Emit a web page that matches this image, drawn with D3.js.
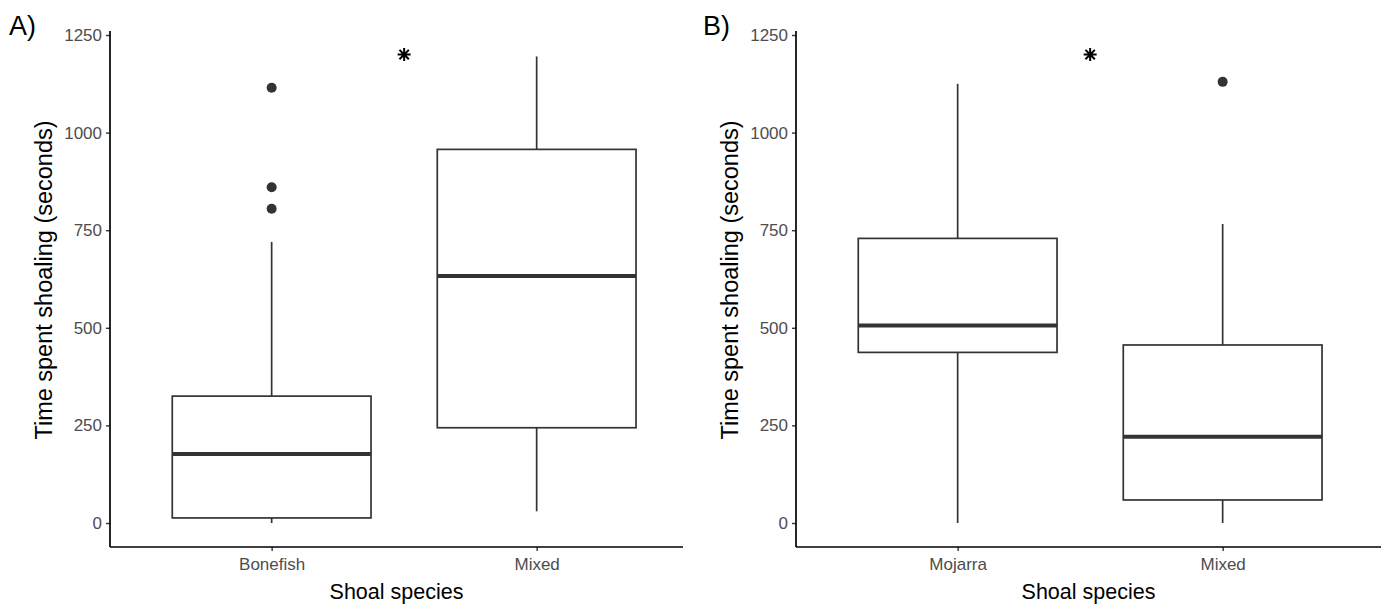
<!DOCTYPE html>
<html>
<head>
<meta charset="utf-8">
<script src="https://cdn.jsdelivr.net/npm/d3@7"></script>
<style>
  body { margin: 0; background: #fff; }
  svg { font-family: "Liberation Sans", Arial, Helvetica, sans-serif; display: block; }
</style>
</head>
<body>
<div id="chart"></div>
<script>
// Panel A: Bonefish vs Mixed
const categoriesA = ["Bonefish", "Mixed"];
const lowA    = [0, 30];
const q1A     = [13, 244];
const medianA = [177, 633];
const q3A     = [325, 957];
const highA   = [720, 1195];
const outliersA = [[805, 860, 1115], []];

// Panel B: Mojarra vs Mixed
const categoriesB = ["Mojarra", "Mixed"];
const lowB    = [0, 0];
const q1B     = [437, 59];
const medianB = [506, 221];
const q3B     = [729, 456];
const highB   = [1125, 766];
const outliersB = [[], [1130]];

const yTicks = [0, 250, 500, 750, 1000, 1250];
const signifValue = 1200;

const W = 1387, H = 605;
const svg = d3.select("#chart").append("svg")
    .attr("width", W)
    .attr("height", H);

// y scale shared by both panels
const y = d3.scaleLinear().domain([0, 1250]).range([523, 35]);
const yBottom = 547, yTop = 31;

function drawPanel(opt) {
    const g = svg.append("g");
    const x = d3.scalePoint()
        .domain(opt.categories)
        .range([opt.left + 0.61 * 265, opt.left + 1.61 * 265]);
    const boxW = 0.75 * 265;

    const rows = opt.categories.map((c, i) => ({
        cat: c, low: opt.low[i], q1: opt.q1[i], med: opt.median[i],
        q3: opt.q3[i], high: opt.high[i], out: opt.outliers[i]
    }));

    // whiskers
    g.selectAll(".whisker-top").data(rows).enter().append("line")
        .attr("x1", d => x(d.cat)).attr("x2", d => x(d.cat))
        .attr("y1", d => y(d.q3)).attr("y2", d => y(d.high))
        .attr("stroke", "#333").attr("stroke-width", 1.7);
    g.selectAll(".whisker-bot").data(rows).enter().append("line")
        .attr("x1", d => x(d.cat)).attr("x2", d => x(d.cat))
        .attr("y1", d => y(d.q1)).attr("y2", d => y(d.low))
        .attr("stroke", "#333").attr("stroke-width", 1.7);

    // boxes
    g.selectAll(".box").data(rows).enter().append("rect")
        .attr("x", d => x(d.cat) - boxW / 2)
        .attr("width", boxW)
        .attr("y", d => y(d.q3))
        .attr("height", d => y(d.q1) - y(d.q3))
        .attr("fill", "#fff")
        .attr("stroke", "#333").attr("stroke-width", 1.7);

    // medians
    g.selectAll(".median").data(rows).enter().append("line")
        .attr("x1", d => x(d.cat) - boxW / 2).attr("x2", d => x(d.cat) + boxW / 2)
        .attr("y1", d => y(d.med)).attr("y2", d => y(d.med))
        .attr("stroke", "#333").attr("stroke-width", 4);

    // outliers
    const pts = rows.flatMap(d => d.out.map(v => ({ cat: d.cat, v })));
    g.selectAll(".outlier").data(pts).enter().append("circle")
        .attr("cx", d => x(d.cat)).attr("cy", d => y(d.v))
        .attr("r", 5).attr("fill", "#333");

    // significance star (R pch 8 style), between the two groups
    const sx = (x(opt.categories[0]) + x(opt.categories[1])) / 2;
    const sy = y(signifValue);
    const r = 6.5, rd = r * 0.72;
    g.append("path")
        .attr("d", `M${sx - r},${sy}h${2 * r}M${sx},${sy - r}v${2 * r}` +
                   `M${sx - rd},${sy - rd}l${2 * rd},${2 * rd}M${sx - rd},${sy + rd}l${2 * rd},${-2 * rd}`)
        .attr("stroke", "#000").attr("stroke-width", 2).attr("fill", "none");

    // y axis
    const yAxis = g.append("g")
        .attr("transform", `translate(${opt.left},0)`)
        .call(d3.axisLeft(y).tickValues(yTicks).tickFormat(d3.format("d")).tickSize(4).tickPadding(4));
    yAxis.select(".domain").remove();
    yAxis.selectAll(".tick line").attr("stroke", "#333").attr("stroke-width", 1.4);
    yAxis.selectAll(".tick text").attr("fill", "#4d4d4d").style("font-size", "17px");
    g.append("line")
        .attr("x1", opt.left).attr("x2", opt.left)
        .attr("y1", yTop).attr("y2", yBottom)
        .attr("stroke", "#000").attr("stroke-width", 1.7);

    // x axis
    const xAxis = g.append("g")
        .attr("transform", `translate(0,${yBottom})`)
        .call(d3.axisBottom(x).tickSize(4).tickPadding(7));
    xAxis.select(".domain").remove();
    xAxis.selectAll(".tick line").attr("stroke", "#333").attr("stroke-width", 1.4);
    xAxis.selectAll(".tick text").attr("fill", "#4d4d4d").style("font-size", "17px");
    g.append("line")
        .attr("x1", opt.left).attr("x2", opt.right)
        .attr("y1", yBottom).attr("y2", yBottom)
        .attr("stroke", "#000").attr("stroke-width", 1.7);

    // titles
    g.append("text")
        .attr("x", (opt.left + opt.right) / 2).attr("y", 599)
        .attr("text-anchor", "middle")
        .style("font-size", "21.5px")
        .text("Shoal species");
    g.append("text")
        .attr("transform", `translate(${opt.left - 58},280) rotate(-90)`)
        .attr("text-anchor", "middle")
        .style("font-size", "23.5px")
        .text("Time spent shoaling (seconds)");
    g.append("text")
        .attr("x", opt.tagX).attr("y", 35)
        .style("font-size", "27px")
        .text(opt.tag);
}

drawPanel({
    tag: "A)", tagX: 9, left: 110, right: 683,
    categories: categoriesA, low: lowA, q1: q1A, median: medianA,
    q3: q3A, high: highA, outliers: outliersA
});
drawPanel({
    tag: "B)", tagX: 703, left: 796, right: 1381,
    categories: categoriesB, low: lowB, q1: q1B, median: medianB,
    q3: q3B, high: highB, outliers: outliersB
});
</script>
</body>
</html>
